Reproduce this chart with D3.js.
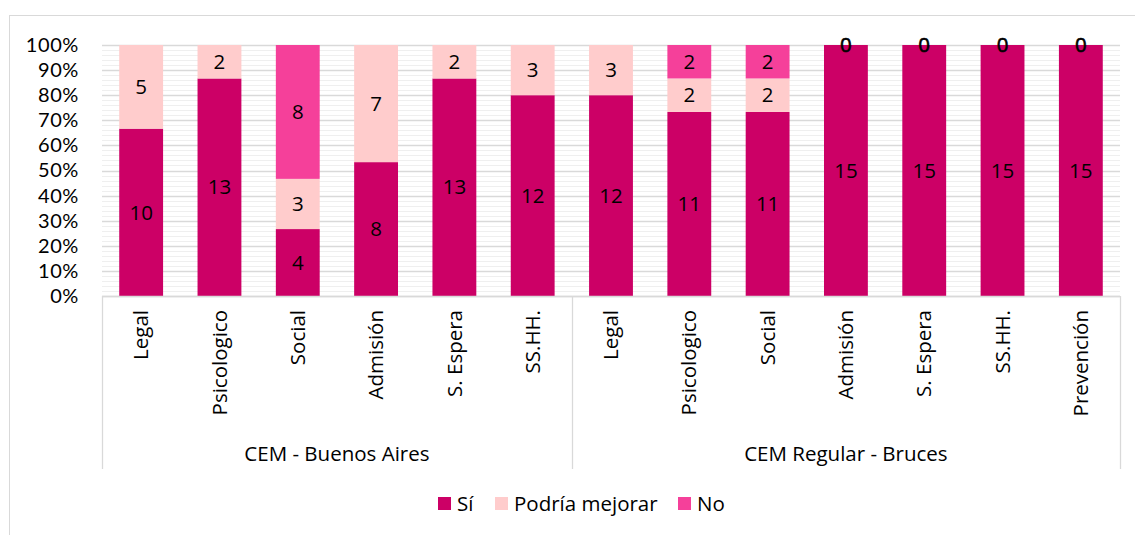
<!DOCTYPE html>
<html><head><meta charset="utf-8">
<script src="https://cdn.jsdelivr.net/npm/d3@7"></script>
<style>body{margin:0;background:#fff}svg{display:block;font-family:"Open Sans",Lato,sans-serif}</style>
</head><body><svg id="c" width="1135" height="535"></svg>
<script>
const groups = ["CEM - Buenos Aires", "CEM Regular - Bruces"];
const categories = ["Legal","Psicologico","Social","Admisión","S. Espera","SS.HH.","Legal","Psicologico","Social","Admisión","S. Espera","SS.HH.","Prevención"];
const groupIndex = [0,0,0,0,0,0,1,1,1,1,1,1,1];
const seriesNames = ["Sí","Podría mejorar","No"];
const si      = [10,13,4,8,13,12,12,11,11,15,15,15,15];
const podria  = [5,2,3,7,2,3,3,2,2,0,0,0,0];
const no      = [null,null,8,null,null,null,null,2,2,null,null,null,null];
const yTicks  = [0,0.1,0.2,0.3,0.4,0.5,0.6,0.7,0.8,0.9,1];
const colors  = ["#CC0066","#FFCCCC","#F5409A"];

const FS = 20.5;
const svg = d3.select("#c");
const L = 102, R = 1120, T = 45, B = 296;
svg.append("rect").attr("x",9.5).attr("y",15.5).attr("width",1140).attr("height",540)
  .attr("fill","none").attr("stroke","#d9d9d9").attr("stroke-width",1);

const rows = categories.map((c,i)=>({i, "Sí":si[i], "Podría mejorar":podria[i], "No":no[i]??0}));
const stack = d3.stack().keys(seriesNames).offset(d3.stackOffsetExpand)(rows);
const raw = [si,podria,no];

const x = d3.scaleBand().domain(d3.range(categories.length)).range([L,R]).paddingInner(0.44).paddingOuter(0.22);
const y = d3.scaleLinear().domain([0,1]).range([B,T]);

svg.append("g").selectAll("line").data(d3.range(0,1.0001,0.02).filter(v=>Math.round(v*100)%10!==0))
  .join("line").attr("x1",L).attr("x2",R).attr("y1",d=>Math.round(y(d))+0.5).attr("y2",d=>Math.round(y(d))+0.5)
  .attr("stroke","#efefef").attr("stroke-width",1);
svg.append("g").selectAll("line").data(yTicks)
  .join("line").attr("x1",L).attr("x2",R).attr("y1",d=>Math.round(y(d))+0.5).attr("y2",d=>Math.round(y(d))+0.5)
  .attr("stroke","#d9d9d9").attr("stroke-width",1.3);

const yAxis = svg.append("g").attr("transform",`translate(${L},0)`)
  .call(d3.axisLeft(y).tickValues(yTicks).tickFormat(d3.format(".0%")).tickSize(0).tickPadding(23));
yAxis.select(".domain").remove();
yAxis.selectAll("text").attr("font-size",20).attr("fill","#000").attr("font-family","Lato, sans-serif")
  .attr("letter-spacing","0.6px");

const layers = svg.append("g").selectAll("g").data(stack).join("g").attr("fill",(d,k)=>colors[k]);
layers.selectAll("rect").data(d=>d).join("rect")
  .attr("x",d=>x(d.data.i)).attr("width",x.bandwidth())
  .attr("y",d=>y(d[1])).attr("height",d=>Math.max(0,y(d[0])-y(d[1])));

stack.forEach((layer,k)=>{
  svg.append("g").selectAll("text").data(layer.filter(d=>raw[k][d.data.i]!==null))
    .join("text")
    .attr("x",d=>x(d.data.i)+x.bandwidth()/2)
    .attr("y",d=>(y(d[0])+y(d[1]))/2)
    .attr("dy","0.35em").attr("text-anchor","middle")
    .attr("font-size",FS).attr("fill","#000")
    .attr("stroke",d=>raw[k][d.data.i]===0?"#000":"none").attr("stroke-width",0.6)
    .text(d=>raw[k][d.data.i]);
});

const ax = svg.append("g");
ax.append("line").attr("x1",L).attr("x2",R).attr("y1",B+0.5).attr("y2",B+0.5).attr("stroke","#d9d9d9").attr("stroke-width",1.3);
const boundaries = [L, (x(5)+x.bandwidth()+x(6))/2, R];
ax.selectAll("line.v").data(boundaries).join("line").attr("class","v")
  .attr("x1",d=>Math.round(d)+0.5).attr("x2",d=>Math.round(d)+0.5).attr("y1",B).attr("y2",469)
  .attr("stroke","#d9d9d9").attr("stroke-width",1.3);
ax.selectAll("text.cat").data(categories).join("text").attr("class","cat")
  .attr("transform",(d,i)=>`translate(${x(i)+x.bandwidth()/2},${310}) rotate(-90)`)
  .attr("text-anchor","end").attr("dy","0.35em").attr("font-size",FS).attr("fill","#000").text(d=>d);
ax.selectAll("text.grp").data(groups).join("text").attr("class","grp")
  .attr("x",(d,g)=>(boundaries[g]+boundaries[g+1])/2)
  .attr("y",454).attr("dy","0.35em").attr("text-anchor","middle").attr("font-size",FS).attr("fill","#000").text(d=>d);

const legendItems = [{n:"Sí",x:438},{n:"Podría mejorar",x:495},{n:"No",x:678}];
const lg = svg.append("g");
legendItems.forEach((it,k)=>{
  lg.append("rect").attr("x",it.x).attr("y",497).attr("width",13).attr("height",13).attr("fill",colors[k]);
  lg.append("text").attr("x",it.x+19).attr("y",504).attr("dy","0.35em").attr("font-size",FS).attr("fill","#000").text(seriesNames[k]);
});
</script></body></html>
